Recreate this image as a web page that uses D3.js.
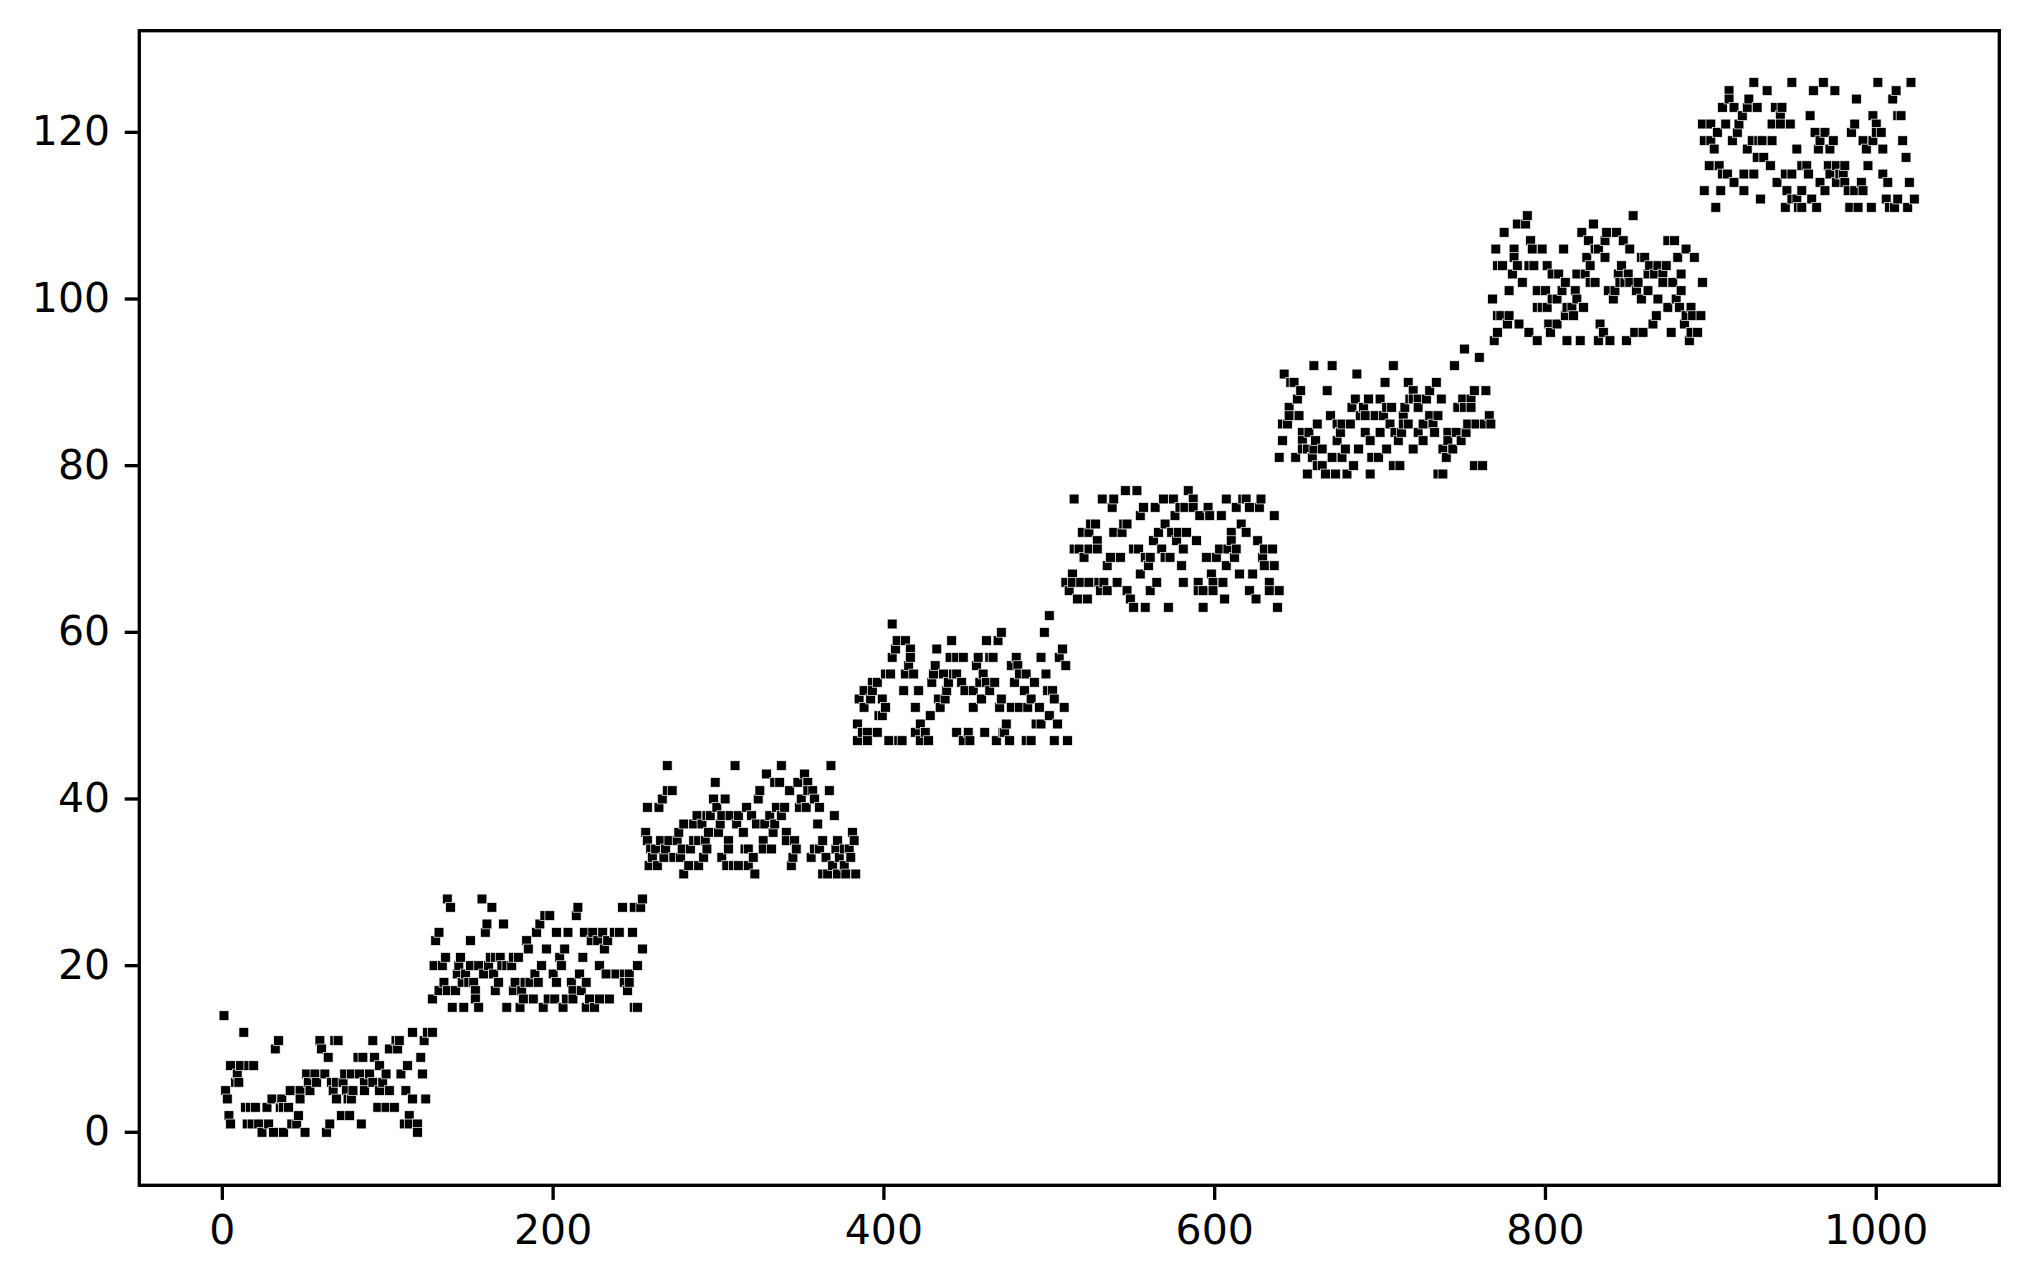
<!DOCTYPE html>
<html lang="en">
<head>
	<meta charset="UTF-8">
	<title>Block scatter</title>
	<script src="https://cdnjs.cloudflare.com/ajax/libs/d3/7.8.5/d3.min.js"></script>
	<style>
		html, body { margin: 0; padding: 0; background: #fff; }
		svg { display: block; }
		.axis text { font-family: "DejaVu Sans", sans-serif; font-size: 41px; fill: #000; }
		.axis line { stroke: #000; stroke-width: 3.33px; }
		.axis path { display: none; }
		.frame { fill: none; stroke: #000; stroke-width: 3.33px; }
		.dot { fill: #000; stroke: #fff; stroke-width: 0.7px; }
	</style>
</head>
<body>
	<div id="container"></div>
	<script>
		// each entry: [y value, x values on that row]
		var block1 = [
			[14, [1]],
			[12, [13, 115, 124, 127]],
			[11, [34, 59, 68, 70, 91, 105, 107, 122]],
			[10, [32, 60, 101, 106]],
			[9, [64, 82, 85, 92, 120]],
			[8, [5, 11, 16, 19, 95, 112]],
			[7, [9, 51, 56, 62, 74, 78, 83, 89, 99, 108, 121]],
			[6, [8, 10, 52, 57, 66, 69, 73, 86, 91, 97]],
			[5, [2, 41, 47, 53, 67, 75, 79, 86, 95, 101, 111]],
			[4, [3, 30, 36, 47, 69, 76, 78, 115, 123]],
			[3, [14, 17, 20, 27, 35, 37, 40, 94, 99, 104]],
			[2, [4, 46, 72, 77, 113]],
			[1, [5, 15, 18, 22, 28, 42, 45, 65, 84, 110, 113, 118]],
			[0, [24, 31, 37, 50, 63, 118]]
		];
		var block2 = [
			[28, [136, 157, 254]],
			[27, [138, 163, 215, 242, 249, 253]],
			[26, [195, 198, 214]],
			[25, [160, 170, 192]],
			[24, [131, 159, 190, 202, 209, 219, 224, 230, 237, 240, 248]],
			[23, [129, 150, 184, 223, 227, 233]],
			[22, [185, 196, 207, 231, 254]],
			[21, [135, 144, 162, 165, 168, 176, 179, 204, 218]],
			[20, [128, 133, 143, 150, 155, 161, 169, 172, 175, 193, 205, 228, 251]],
			[19, [142, 147, 158, 164, 189, 200, 216, 232, 238, 243, 246]],
			[18, [134, 145, 149, 152, 167, 177, 183, 186, 191, 202, 211, 220, 243, 246]],
			[17, [131, 136, 141, 153, 165, 176, 181, 212, 217, 245]],
			[16, [127, 153, 182, 188, 197, 201, 208, 212, 222, 228, 234]],
			[15, [139, 146, 155, 172, 180, 194, 206, 220, 225, 249, 251]]
		];
		var block3 = [
			[44, [269, 310, 338, 368]],
			[43, [329, 352]],
			[42, [298, 334, 337, 348, 354]],
			[41, [269, 272, 325, 343, 354, 357, 367]],
			[40, [266, 297, 304, 324, 350, 358]],
			[39, [257, 264, 299, 317, 335, 340, 349, 353, 361]],
			[38, [287, 293, 295, 302, 307, 312, 320, 331, 338, 370]],
			[37, [279, 285, 290, 301, 311, 323, 328, 334, 360]],
			[36, [256, 276, 294, 300, 315, 333, 341, 381]],
			[35, [257, 265, 270, 275, 285, 288, 292, 306, 327, 341, 346, 363, 372, 382]],
			[34, [259, 262, 268, 278, 283, 293, 306, 316, 318, 327, 332, 347, 358, 361, 371, 376, 379]],
			[33, [260, 267, 273, 277, 291, 302, 321, 345, 356, 365, 373, 380]],
			[32, [258, 263, 282, 288, 305, 309, 312, 318, 344, 369, 376]],
			[31, [279, 322, 363, 366, 372, 377, 383]]
		];
		var block4 = [
			[62, [500]],
			[61, [405]],
			[60, [471, 497]],
			[59, [408, 413, 441, 462, 469]],
			[58, [407, 416, 432, 508]],
			[57, [405, 416, 440, 444, 448, 457, 464, 466, 480, 495, 506]],
			[56, [415, 431, 456, 477, 481, 510]],
			[55, [401, 404, 413, 418, 430, 436, 442, 444, 460, 482, 486, 498]],
			[54, [393, 396, 429, 439, 447, 458, 462, 467, 479, 491]],
			[53, [388, 393, 412, 421, 438, 449, 454, 464, 485, 499, 502]],
			[52, [385, 392, 399, 433, 437, 459, 471, 489, 503]],
			[51, [388, 401, 419, 434, 454, 470, 477, 482, 487, 494, 509]],
			[50, [397, 399, 428, 500]],
			[49, [384, 422, 474, 492, 495, 505]],
			[48, [387, 390, 396, 419, 425, 444, 451, 461, 472, 473]],
			[47, [384, 390, 403, 409, 411, 422, 427, 448, 452, 468, 476, 486, 489, 503, 511]]
		];
		var block5 = [
			[77, [546, 553, 584]],
			[76, [515, 532, 539, 569, 575, 587, 607, 617, 619, 628]],
			[75, [538, 557, 564, 579, 582, 587, 596, 613, 621, 627]],
			[74, [555, 576, 591, 597, 604, 636]],
			[73, [525, 528, 545, 547, 570, 616]],
			[72, [520, 524, 539, 544, 566, 574, 578, 583, 610, 619]],
			[71, [529, 563, 577, 589, 610, 626]],
			[70, [515, 518, 524, 529, 551, 554, 568, 581, 603, 608, 613, 630, 635]],
			[69, [521, 537, 543, 558, 561, 570, 573, 595, 601, 612, 629]],
			[68, [535, 560, 580, 607, 630, 636]],
			[67, [514, 555, 598, 615, 623]],
			[66, [510, 514, 519, 524, 530, 533, 541, 565, 581, 590, 599, 605, 633]],
			[65, [512, 531, 535, 547, 561, 590, 593, 599, 621, 633, 639]],
			[64, [517, 523, 549, 606, 625]],
			[63, [551, 558, 572, 593, 638]]
		];
		var block6 = [
			[94, [751]],
			[93, [760]],
			[92, [660, 671, 708, 745]],
			[91, [642, 686]],
			[90, [646, 648, 703, 717, 734]],
			[89, [652, 668, 720, 730, 757, 764]],
			[88, [650, 685, 693, 700, 718, 720, 723, 728, 737, 750, 755]],
			[87, [645, 683, 690, 704, 707, 715, 723, 747, 751, 755]],
			[86, [645, 651, 670, 688, 691, 697, 702, 714, 730, 735, 766]],
			[85, [641, 644, 662, 674, 677, 682, 706, 714, 717, 726, 732, 753, 758, 763, 767]],
			[84, [653, 657, 676, 691, 700, 709, 713, 723, 733, 741, 746, 752]],
			[83, [641, 653, 661, 674, 694, 711, 726, 741, 749]],
			[82, [653, 656, 660, 665, 679, 687, 704, 720, 738, 744]],
			[81, [639, 649, 659, 671, 677, 695, 699, 740]],
			[80, [662, 665, 684, 708, 712, 757, 762]],
			[79, [656, 667, 673, 680, 694, 735, 738]]
		];
		var block7 = [
			[111, [903]],
			[110, [789, 853]],
			[109, [783, 788, 829]],
			[108, [775, 822, 837, 843]],
			[107, [791, 826, 836, 847, 874, 878]],
			[106, [770, 781, 792, 798, 811, 830, 832, 851, 885]],
			[105, [781, 825, 836, 858, 860, 880, 890]],
			[104, [771, 774, 783, 790, 793, 801, 827, 846, 863, 868, 873]],
			[103, [780, 804, 808, 819, 824, 844, 850, 862, 866, 871, 882]],
			[102, [786, 812, 827, 830, 845, 848, 851, 856, 871, 877, 895]],
			[101, [778, 795, 800, 810, 818, 838, 842, 855, 862, 882]],
			[100, [768, 804, 807, 819, 841, 858, 868, 879]],
			[99, [795, 798, 801, 813, 816, 823, 874, 881, 888]],
			[98, [771, 773, 778, 812, 817, 867, 885, 889, 894]],
			[97, [777, 784, 802, 807, 833, 865, 884]],
			[96, [771, 790, 803, 835, 854, 859, 876, 888, 892]],
			[95, [769, 795, 813, 821, 832, 839, 849, 887]]
		];
		var block8 = [
			[126, [926, 949, 968, 1001, 1021]],
			[125, [911, 934, 962, 975, 1012]],
			[124, [911, 923, 988, 1010]],
			[123, [907, 914, 922, 928, 939, 943]],
			[122, [919, 942, 960, 998, 1013, 1015]],
			[121, [895, 900, 909, 917, 937, 942, 948, 987, 1000]],
			[120, [904, 916, 963, 969, 985, 1000, 1003]],
			[119, [896, 900, 913, 925, 929, 931, 937, 966, 974, 992, 998, 1016]],
			[118, [902, 922, 952, 965, 972, 994, 1004]],
			[117, [928, 932, 1018]],
			[116, [899, 905, 936, 955, 958, 971, 976, 981, 995]],
			[115, [907, 910, 920, 926, 945, 949, 959, 972, 978, 980, 1004]],
			[114, [914, 940, 966, 976, 981, 991, 1007, 1020]],
			[113, [896, 906, 920, 946, 955, 969, 983, 987, 992]],
			[112, [930, 949, 952, 961, 1006, 1013, 1023]],
			[111, [903, 945, 953, 955, 964, 984, 989, 997, 1008, 1011, 1019]]
		];
		var xTicks = [0, 200, 400, 600, 800, 1000];
		var yTicks = [0, 20, 40, 60, 80, 100, 120];

		var width = 2028;
		var height = 1286;
		var plot = { left: 139.3, right: 1999.3, top: 30.7, bottom: 1185.3 };
		var markSize = 9.8;

		var svg = d3.select("#container").append("svg")
			.attr("width", width)
			.attr("height", height);

		var xscale = d3.scaleLinear()
			.domain([-50.2, 1074.4])
			.range([plot.left, plot.right]);

		var yscale = d3.scaleLinear()
			.domain([-6.36, 132.2])
			.range([plot.bottom, plot.top]);

		// flatten the rows, later x goes on top like the original draw order
		var points = [];
		[block1, block2, block3, block4, block5, block6, block7, block8].forEach(function(block) {
			block.forEach(function(row) {
				row[1].forEach(function(x) {
					points.push({ x: x, y: row[0] });
				});
			});
		});
		points.sort(function(a, b) { return a.x - b.x; });

		svg.append("g")
			.selectAll("rect")
			.data(points)
			.enter().append("rect")
				.attr("class", "dot")
				.attr("x", function(d) { return xscale(d.x) - markSize / 2; })
				.attr("y", function(d) { return yscale(d.y) - markSize / 2; })
				.attr("width", markSize)
				.attr("height", markSize);

		svg.append("rect")
			.attr("class", "frame")
			.attr("x", plot.left)
			.attr("y", plot.top)
			.attr("width", plot.right - plot.left)
			.attr("height", plot.bottom - plot.top);

		var xAxis = d3.axisBottom(xscale).tickValues(xTicks).tickSize(14.6).tickPadding(14.6).tickFormat(d3.format("d")).offset(0);
		var yAxis = d3.axisLeft(yscale).tickValues(yTicks).tickSize(14.6).tickPadding(14.6).tickFormat(d3.format("d")).offset(0);

		svg.append("g")
			.attr("class", "axis")
			.attr("transform", "translate(0," + plot.bottom + ")")
			.call(xAxis);

		svg.append("g")
			.attr("class", "axis")
			.attr("transform", "translate(" + plot.left + ",0)")
			.call(yAxis);
	</script>
</body>
</html>
